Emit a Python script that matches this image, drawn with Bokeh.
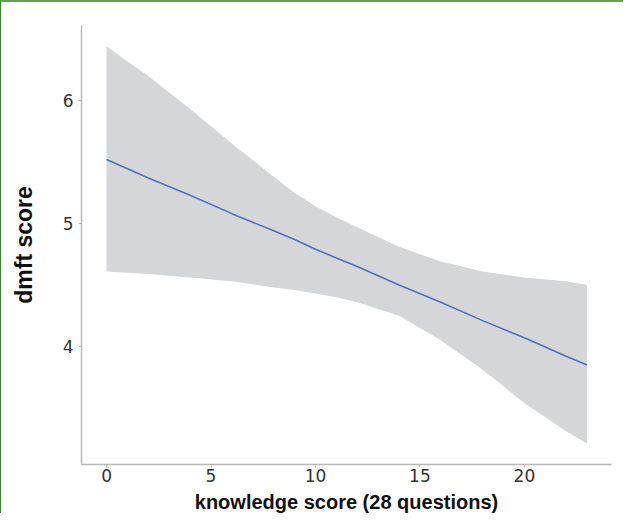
from bokeh.plotting import figure
from bokeh.models import Range1d, FixedTicker
from bokeh.embed import file_html
from bokeh.resources import INLINE

# knowledge score grid and read-off values
knowledge = [0, 2, 4, 6, 8, 9, 10, 11, 12, 14, 16, 18, 20, 22, 23]
fit = [5.52, 5.37, 5.23, 5.08, 4.94, 4.87, 4.79, 4.72, 4.65, 4.50, 4.36, 4.21, 4.07, 3.92, 3.85]
upper = [6.44, 6.20, 5.93, 5.65, 5.38, 5.25, 5.14, 5.05, 4.97, 4.81, 4.69, 4.61, 4.56, 4.53, 4.50]
lower = [4.61, 4.59, 4.56, 4.53, 4.48, 4.46, 4.43, 4.40, 4.36, 4.25, 4.05, 3.81, 3.54, 3.31, 3.21]
x_ticks = [0, 5, 10, 15, 20]
y_ticks = [4, 5, 6]

p = figure(width=623, height=513, output_backend="svg", toolbar_location=None,
           x_range=Range1d(-1.2, 24.17), y_range=Range1d(3.04, 6.61),
           min_border_left=80, min_border_top=23, min_border_right=13, min_border_bottom=51)
p.styles = {"border-top": "2px solid #6a9c5c", "border-left": "1px solid #3b8a2e"}
p.outline_line_color = None
p.grid.visible = False
p.background_fill_color = "white"
p.border_fill_color = "white"

p.varea(x=knowledge, y1=lower, y2=upper, fill_color="#d5d6d8")
p.line(x=knowledge, y=fit, line_color="#4d72c4", line_width=1.6)

for ax in (p.xaxis[0], p.yaxis[0]):
    ax.axis_line_color = "#b8b8b8"
    ax.axis_line_width = 1.5
    ax.major_tick_line_color = "#b8b8b8"
    ax.major_tick_out = 3
    ax.major_tick_in = 0
    ax.minor_tick_line_color = None
    ax.major_label_text_font = "DejaVu Sans"
    ax.major_label_text_font_size = "17px"
    ax.major_label_text_color = "#333333"
    ax.axis_label_text_font = "Liberation Sans"
    ax.axis_label_text_font_style = "bold"
    ax.axis_label_text_color = "#111111"

p.xaxis.ticker = FixedTicker(ticks=x_ticks)
p.yaxis.ticker = FixedTicker(ticks=y_ticks)
p.xaxis.axis_label = "knowledge score (28 questions)"
p.yaxis.axis_label = "dmft score"
p.xaxis.axis_label_text_font_size = "20px"
p.yaxis.axis_label_text_font_size = "23px"
p.xaxis.major_label_standoff = 1
p.xaxis.axis_label_standoff = 6
p.yaxis.major_label_standoff = 5
p.yaxis.axis_label_standoff = 23

open("out.html", "w").write(file_html(p, INLINE))
